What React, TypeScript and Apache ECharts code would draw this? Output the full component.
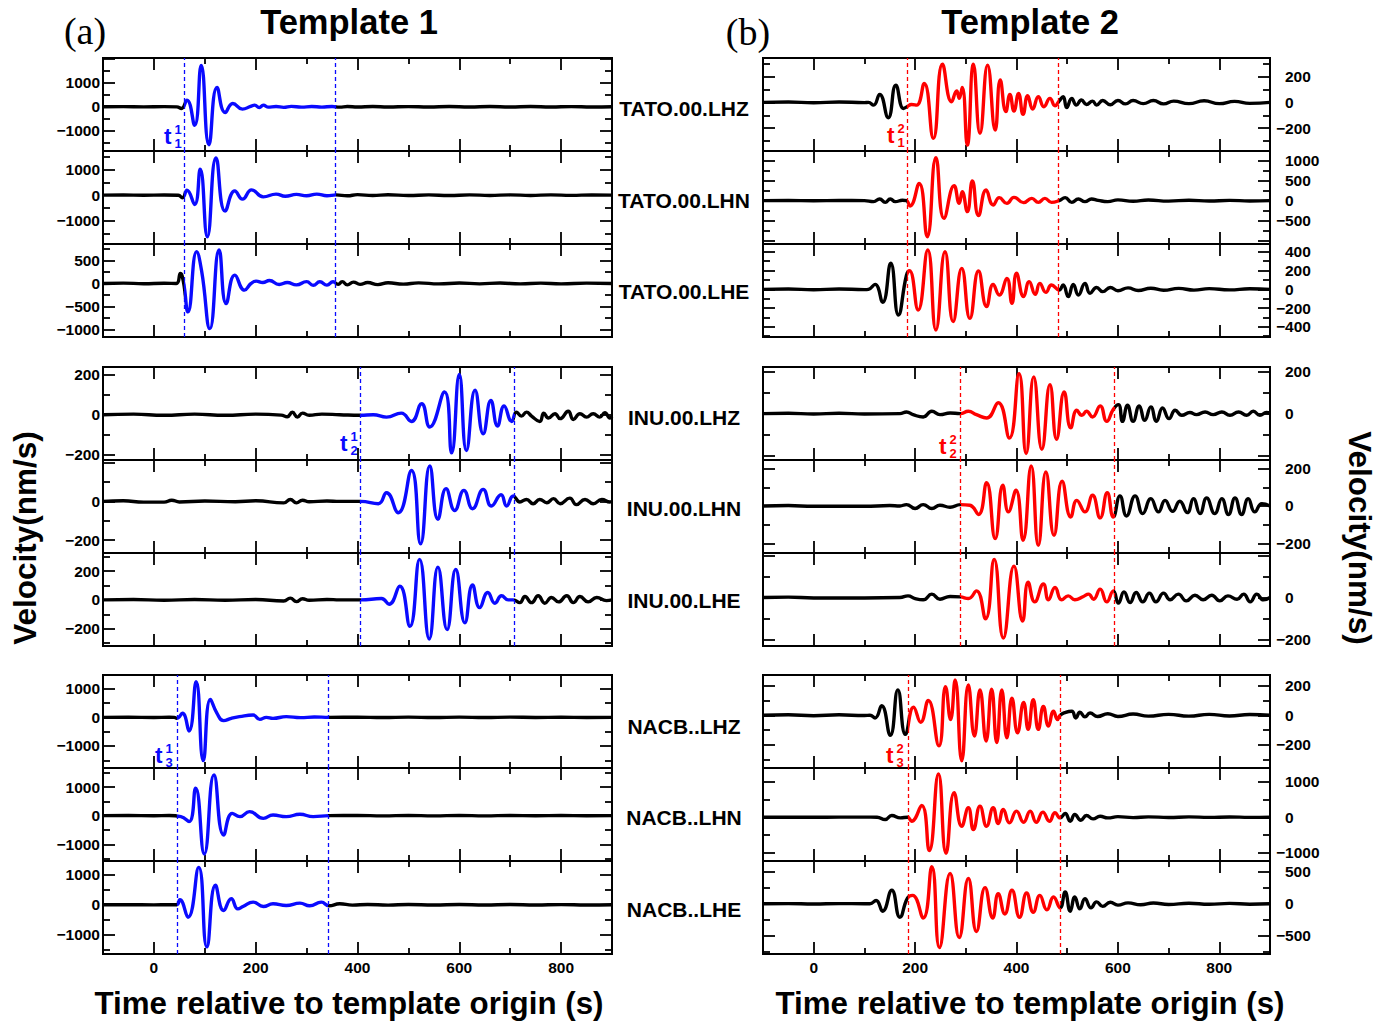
import React, { useEffect, useRef } from "react";
import * as echarts from "echarts";

// ---------- axes ----------
const X_MIN = -100;
const X_MAX = 900;
const X_MAJOR_TICKS = [0, 200, 400, 600, 800];
const X_MINOR_TICKS = [100, 300, 500, 700];
const X_TICK_LABELS = [0, 200, 400, 600, 800];

const STATIONS = [
  "TATO.00.LHZ", "TATO.00.LHN", "TATO.00.LHE",
  "INU.00.LHZ", "INU.00.LHN", "INU.00.LHE",
  "NACB..LHZ", "NACB..LHN", "NACB..LHE",
];

// template windows (s) for each station group
const WIN_T1 = [[59, 357], [406, 707], [45, 343]];
const WIN_T2 = [[184, 483], [290, 593], [186, 486]];

// y ranges, [major, minor] tick steps and tick labels per panel
const T1_Y_RANGE = [[-1830, 2020], [-1911, 1729], [-1160, 855], [-228, 240], [-267, 214], [-320, 325], [-1768, 1477], [-1582, 1663], [-1650, 1469]];
const T1_Y_STEPS = [[1000, 500], [1000, 500], [500, 250], [200, 100], [200, 100], [200, 100], [1000, 500], [1000, 500], [1000, 500]];
const T1_Y_LABELS = [[-1000, 0, 1000], [-1000, 0, 1000], [-1000, -500, 0, 500], [-200, 0, 200], [-200, 0], [-200, 0, 200], [-1000, 0, 1000], [-1000, 0, 1000], [-1000, 0, 1000]];

const T2_Y_RANGE = [[-377, 344], [-1083, 1241], [-509, 484], [-221, 222], [-252, 246], [-232, 213], [-355, 271], [-1238, 1390], [-788, 672]];
const T2_Y_STEPS = [[200, 100], [500, 250], [200, 100], [200, 100], [200, 100], [200, 100], [200, 100], [1000, 500], [500, 250]];
const T2_Y_LABELS = [[-200, 0, 200], [-500, 0, 500, 1000], [-400, -200, 0, 200, 400], [0, 200], [-200, 0, 200], [-200, 0], [-200, 0, 200], [-1000, 0, 1000], [-500, 0, 500]];

// ---------- waveforms: [time (s), velocity (nm/s)] ----------
const T1_TATO_LHZ = [[-100,0],[-60,6],[-20,-5],[20,5],[45,-4],[54,-70],[65,278],[80,-765],[93,1710],[108,-1570],[124,806],[140,-236],[155,139],[174,-97],[190,20],[198,70],[207,-28],[215,70],[224,-14],[240,12],[255,-22],[270,18],[290,-15],[310,12],[330,-12],[350,12],[365,-15],[380,10],[400,-10],[430,12],[460,-10],[500,8],[540,-10],[580,10],[620,-8],[660,10],[700,-8],[740,10],[780,-10],[820,8],[860,-8],[900,0]];
const T1_TATO_LHN = [[-100,0],[-60,6],[-20,-5],[20,5],[48,-4],[56,-104],[65,195],[80,-364],[91,1014],[105,-1625],[122,1456],[140,-624],[159,169],[174,-156],[192,208],[215,-65],[240,40],[258,-40],[280,30],[300,-20],[320,40],[340,-20],[358,10],[380,-25],[400,20],[430,-15],[460,15],[500,-12],[540,10],[580,-12],[620,10],[660,-10],[700,10],[740,-10],[780,10],[820,-8],[860,8],[900,0]];
const T1_TATO_LHE = [[-100,0],[-60,8],[-20,-6],[20,6],[44,0],[52,217],[58,36],[67,-616],[84,689],[94,254],[110,-979],[128,725],[142,-435],[159,181],[178,-145],[191,0],[201,50],[214,22],[227,65],[246,-22],[262,20],[280,-30],[300,40],[313,-40],[326,36],[340,-36],[352,36],[362,-20],[370,40],[380,-30],[392,30],[405,-20],[420,20],[440,-25],[460,15],[490,-15],[520,12],[560,-10],[600,10],[640,-8],[680,10],[720,-10],[760,8],[800,-8],[850,8],[900,0]];
const T1_INU_LHZ = [[-100,0],[-40,3],[20,-3],[80,3],[140,-3],[200,3],[250,-2],[262,-10],[272,12],[282,-12],[292,8],[305,-3],[330,3],[365,0],[406,-3],[431,0],[457,-12],[486,8],[506,-34],[526,55],[542,-62],[571,114],[585,-192],[600,202],[614,-180],[631,123],[647,-96],[662,72],[675,-57],[688,44],[703,-34],[712,13],[722,-7],[732,13],[742,-7],[758,-34],[766,8],[775,-17],[788,5],[798,-20],[814,17],[824,-24],[837,5],[850,-12],[863,5],[876,-12],[886,10],[896,-17],[900,-10]];
const T1_INU_LHN = [[-100,0],[-60,3],[-20,-4],[20,-4],[35,6],[50,-3],[100,2],[160,-2],[200,3],[255,-8],[268,10],[280,-8],[292,6],[305,-2],[340,2],[365,0],[406,0],[441,-12],[457,45],[480,-59],[506,160],[524,-219],[542,183],[558,-93],[574,66],[591,-47],[609,57],[626,-38],[647,62],[663,-24],[682,34],[693,-24],[706,28],[719,-3],[732,10],[745,-12],[758,10],[772,-7],[785,14],[798,-12],[817,17],[830,-17],[847,10],[863,-12],[880,10],[896,-3],[900,0]];
const T1_INU_LHE = [[-100,0],[-40,3],[20,-3],[80,3],[140,-3],[200,3],[255,-8],[268,12],[280,-12],[292,8],[305,-3],[340,3],[365,0],[406,0],[447,9],[462,-30],[483,94],[503,-183],[522,281],[541,-271],[558,227],[576,-206],[593,211],[611,-159],[626,103],[640,-54],[656,51],[670,-23],[683,28],[696,0],[706,0],[719,-19],[729,23],[742,-19],[755,28],[768,-23],[781,16],[795,-14],[811,28],[824,-19],[837,23],[853,-14],[870,16],[889,-5],[900,0]];
const T1_NACB_LHZ = [[-100,0],[-50,4],[0,-4],[30,3],[40,-3],[45,-35],[56,140],[69,-477],[83,1244],[97,-1512],[111,628],[124,140],[137,-116],[152,-35],[168,23],[195,81],[208,-70],[221,0],[234,-35],[260,23],[288,-12],[315,12],[344,0],[400,6],[450,-6],[500,6],[550,-6],[600,6],[650,-6],[700,6],[750,-5],[800,5],[850,-5],[900,0]];
const T1_NACB_LHN = [[-100,0],[-50,4],[0,-4],[30,3],[53,-35],[69,-209],[82,954],[99,-1337],[118,1419],[137,-675],[154,81],[169,-35],[188,140],[215,-93],[234,23],[260,-35],[287,47],[313,-35],[344,0],[400,6],[450,-6],[500,6],[550,-6],[600,6],[650,-6],[700,6],[750,-5],[800,5],[850,-5],[900,0]];
const T1_NACB_LHE = [[-100,0],[-50,4],[0,-4],[30,3],[45,0],[51,170],[67,-418],[88,1254],[104,-1412],[121,655],[137,-192],[152,203],[165,-136],[175,-57],[195,90],[215,-57],[234,34],[260,-23],[287,57],[306,-34],[329,90],[344,-34],[365,34],[390,-10],[420,12],[460,-10],[500,10],[550,-8],[600,8],[650,-8],[700,8],[750,-6],[800,6],[850,-6],[900,0]];

const T2_TATO_LHZ = [[-100,0],[-50,3],[0,-3],[50,3],[100,-2],[108,0],[118,-21],[130,62],[147,-119],[162,134],[177,-47],[184,-34],[193,-16],[203,-21],[218,147],[236,-279],[254,295],[272,5],[282,88],[287,31],[293,116],[303,-331],[315,295],[328,-240],[343,289],[358,-214],[368,173],[379,-72],[387,62],[395,-67],[404,70],[413,-93],[422,52],[432,-52],[443,44],[454,-34],[466,31],[476,-26],[484,10],[492,44],[499,-41],[509,31],[518,-21],[528,18],[538,-16],[550,10],[558,-21],[570,15],[585,-18],[600,15],[615,-12],[630,14],[650,-10],[670,14],[690,-12],[710,10],[740,-10],[770,12],[800,-10],[830,8],[860,-8],[900,0]];
const T2_TATO_LHN = [[-100,0],[-50,3],[0,-3],[50,3],[100,0],[118,-25],[130,42],[141,-42],[151,42],[161,-25],[175,10],[183,0],[190,-133],[208,433],[224,-900],[241,1075],[257,-441],[277,375],[287,-67],[293,225],[303,-275],[313,491],[325,-375],[340,267],[354,-108],[366,75],[381,-67],[395,83],[414,-50],[430,58],[443,-42],[456,58],[469,-42],[484,0],[496,75],[509,-42],[522,42],[535,-25],[548,42],[561,8],[580,-25],[600,20],[630,-15],[660,15],[700,-12],[740,12],[780,-10],[820,8],[860,-8],[900,0]];
const T2_TATO_LHE = [[-100,0],[-50,4],[0,-4],[50,4],[100,-3],[108,0],[121,53],[136,-139],[152,278],[167,-274],[183,150],[189,200],[206,-221],[225,420],[241,-434],[259,402],[275,-345],[292,224],[308,-310],[325,196],[341,-185],[354,53],[366,-60],[381,117],[391,-150],[400,171],[414,-78],[425,82],[437,-53],[446,64],[458,-32],[469,46],[484,-7],[492,46],[502,-78],[512,53],[522,-60],[535,64],[545,-43],[558,20],[570,-25],[585,20],[600,-15],[620,15],[640,-12],[665,12],[690,-10],[720,10],[750,-8],[780,8],[820,-6],[860,6],[900,0]];
const T2_INU_LHZ = [[-100,0],[-50,2],[0,-2],[50,2],[100,-2],[170,0],[183,8],[196,-5],[216,-16],[233,11],[249,-5],[269,3],[289,0],[305,11],[321,-5],[341,-21],[364,52],[386,-116],[405,190],[419,-190],[434,175],[450,-170],[466,138],[479,-122],[494,103],[507,-68],[519,16],[529,-8],[538,11],[550,-16],[565,37],[578,-37],[591,21],[601,43],[609,-37],[619,40],[630,-37],[642,37],[653,-32],[665,32],[676,-37],[688,27],[701,-24],[713,16],[726,-8],[742,5],[755,-5],[772,8],[788,-5],[805,8],[821,-8],[838,8],[854,-8],[867,11],[880,-8],[893,5],[900,0]];
const T2_INU_LHN = [[-100,0],[-50,2],[0,-2],[100,-2],[150,2],[170,0],[183,7],[200,-14],[216,7],[233,-14],[249,4],[269,-7],[289,7],[308,4],[325,-46],[341,125],[358,-175],[373,111],[384,-32],[399,84],[413,-184],[429,214],[443,-211],[458,182],[474,-157],[490,132],[507,-59],[519,30],[535,-32],[550,57],[565,-64],[579,71],[591,-59],[604,54],[617,-54],[634,54],[649,-41],[665,39],[680,-32],[693,30],[708,-29],[722,25],[737,-36],[749,39],[762,-41],[775,43],[791,-41],[805,39],[818,-46],[831,43],[844,-46],[857,39],[870,-32],[884,12],[900,0]];
const T2_INU_LHE = [[-100,0],[-50,2],[0,-2],[100,-2],[170,0],[186,8],[200,-5],[216,-11],[233,16],[249,-8],[269,5],[289,3],[305,-5],[321,32],[339,-102],[356,182],[374,-194],[395,150],[412,-113],[423,73],[436,-21],[453,65],[463,-11],[476,48],[489,-11],[502,8],[515,-11],[532,5],[542,16],[552,-8],[565,40],[578,-21],[591,32],[601,-27],[612,27],[624,-24],[636,24],[649,-21],[662,21],[675,-21],[690,21],[703,-11],[719,16],[735,-16],[752,11],[768,-11],[785,11],[801,-16],[817,8],[835,-8],[848,16],[861,-21],[874,16],[887,-11],[900,0]];
const T2_NACB_LHZ = [[-100,0],[-50,3],[0,-3],[50,3],[100,-2],[111,0],[121,-18],[134,64],[151,-135],[166,171],[181,-129],[197,55],[211,-47],[226,100],[247,-206],[260,193],[270,-29],[279,238],[292,-306],[305,204],[317,-140],[328,171],[340,-173],[351,175],[361,-184],[371,171],[381,-151],[391,115],[402,-118],[414,87],[423,-95],[433,104],[443,-95],[453,60],[463,-73],[473,27],[481,-29],[486,0],[497,20],[509,27],[517,-18],[525,20],[535,-11],[545,15],[560,-8],[580,10],[600,-8],[630,8],[660,-6],[700,6],[740,-6],[780,6],[820,-5],[860,5],[900,0]];
const T2_NACB_LHN = [[-100,0],[-50,3],[0,-3],[50,3],[100,2],[125,0],[141,-67],[154,48],[171,-19],[185,0],[193,-114],[213,333],[228,-943],[246,1219],[261,-1019],[277,695],[292,-257],[305,267],[315,-352],[328,314],[341,-257],[354,267],[364,-181],[374,219],[386,-162],[400,171],[414,-143],[427,171],[439,-143],[452,143],[465,-114],[476,124],[486,-19],[496,105],[506,-114],[515,76],[527,-86],[538,48],[551,-48],[565,25],[580,-20],[600,15],[630,-12],[660,10],[700,-8],[740,8],[780,-6],[820,6],[860,-5],[900,0]];
const T2_NACB_LHE = [[-100,0],[-50,3],[0,-3],[50,3],[100,2],[111,0],[123,53],[136,-116],[154,212],[170,-212],[185,90],[195,132],[216,-222],[233,582],[248,-688],[269,476],[287,-529],[305,397],[321,-434],[338,254],[353,-222],[364,159],[377,-159],[391,212],[406,-212],[420,169],[433,-132],[446,132],[460,-95],[473,106],[486,-63],[496,185],[506,-116],[515,106],[525,-79],[535,79],[547,-63],[558,30],[570,-40],[585,25],[600,-20],[620,15],[645,-15],[670,12],[700,-10],[740,8],[780,-8],[820,6],[860,-6],[900,0]];

const T1_TRACES = [T1_TATO_LHZ, T1_TATO_LHN, T1_TATO_LHE, T1_INU_LHZ, T1_INU_LHN, T1_INU_LHE, T1_NACB_LHZ, T1_NACB_LHN, T1_NACB_LHE];
const T2_TRACES = [T2_TATO_LHZ, T2_TATO_LHN, T2_TATO_LHE, T2_INU_LHZ, T2_INU_LHN, T2_INU_LHE, T2_NACB_LHZ, T2_NACB_LHN, T2_NACB_LHE];

// ---------- layout & style ----------
const PANEL_TOPS = [58, 151, 244, 367, 460, 553, 675, 768, 861];
const PANEL_H = 93;
const COL_LEFT = [103, 763];
const COL_W = [509, 507];
const BLUE = "#0a0aff";
const RED = "#ff0000";
const FONT = '"Liberation Sans", Arial, sans-serif';
const STATION_Y = [108, 200, 291, 417, 508, 600, 726, 817, 909];

function ticksFor(min: number, max: number, step: number) {
  const out: number[] = [];
  for (let v = Math.ceil(min / step) * step; v < max; v += step) {
    if (v > min) out.push(v);
  }
  return out;
}

const minus = (v: number) => (v < 0 ? "\u2212" + Math.abs(v) : String(v));

function tick(values: number[], length: number) {
  return { show: true, inside: true, length, customValues: values, lineStyle: { color: "#000", width: 1.8 } };
}

function buildOption() {
  const grid: any[] = [];
  const xAxis: any[] = [];
  const yAxis: any[] = [];
  const series: any[] = [];
  const visualMap: any[] = [];

  const panels: any[] = [];
  for (let r = 0; r < 9; r++) {
    panels.push({ col: 0, row: r, data: T1_TRACES[r], range: T1_Y_RANGE[r], steps: T1_Y_STEPS[r], labels: T1_Y_LABELS[r], win: WIN_T1[Math.floor(r / 3)], color: BLUE });
  }
  for (let r = 0; r < 9; r++) {
    panels.push({ col: 1, row: r, data: T2_TRACES[r], range: T2_Y_RANGE[r], steps: T2_Y_STEPS[r], labels: T2_Y_LABELS[r], win: WIN_T2[Math.floor(r / 3)], color: RED });
  }

  const labelFont = { fontFamily: FONT, fontWeight: "bold", fontSize: 15.5, color: "#000" };

  panels.forEach((p, i) => {
    grid.push({
      left: COL_LEFT[p.col], top: PANEL_TOPS[p.row], width: COL_W[p.col], height: PANEL_H,
      show: true, borderColor: "#000", borderWidth: 2, backgroundColor: "transparent",
      containLabel: false, outerBoundsMode: "none",
    });
    const isBottom = p.row === 8;
    const xBase = { gridIndex: i, type: "value", min: X_MIN, max: X_MAX, axisLine: { show: false, onZero: false }, splitLine: { show: false } };
    xAxis.push({ ...xBase, position: "bottom", axisTick: tick(X_MAJOR_TICKS, 12),
      axisLabel: isBottom ? { show: true, customValues: X_TICK_LABELS, margin: 5, ...labelFont } : { show: false } });
    xAxis.push({ ...xBase, position: "bottom", axisTick: tick(X_MINOR_TICKS, 6), axisLabel: { show: false } });
    xAxis.push({ ...xBase, position: "top", axisTick: tick(X_MAJOR_TICKS, 12), axisLabel: { show: false } });
    xAxis.push({ ...xBase, position: "top", axisTick: tick(X_MINOR_TICKS, 6), axisLabel: { show: false } });

    const [ymin, ymax] = p.range;
    const [majStep, minStep] = p.steps;
    const major = ticksFor(ymin, ymax, majStep);
    const minor = ticksFor(ymin, ymax, minStep).filter((v) => major.indexOf(v) < 0);
    const yBase = { gridIndex: i, type: "value", min: ymin, max: ymax, axisLine: { show: false, onZero: false }, splitLine: { show: false } };
    const leftLabel = { show: true, customValues: p.labels, margin: 3, formatter: (v: number) => minus(v), ...labelFont };
    const rightLabel = {
      show: true, customValues: p.labels, margin: 6,
      formatter: (v: number) => (v < 0 ? "{n|" + minus(v) + "}" : "{p|" + v + "}"),
      rich: { n: { ...labelFont }, p: { ...labelFont, padding: [0, 0, 0, 9] } },
    };
    yAxis.push({ ...yBase, position: "left", axisTick: tick(major, 12), axisLabel: p.col === 0 ? leftLabel : { show: false } });
    yAxis.push({ ...yBase, position: "left", axisTick: tick(minor, 7), axisLabel: { show: false } });
    yAxis.push({ ...yBase, position: "right", axisTick: tick(major, 12), axisLabel: p.col === 1 ? rightLabel : { show: false } });
    yAxis.push({ ...yBase, position: "right", axisTick: tick(minor, 7), axisLabel: { show: false } });

    const traceIndex = series.length;
    series.push({
      type: "line", xAxisIndex: 4 * i, yAxisIndex: 4 * i, data: p.data,
      smooth: 0.5, showSymbol: false, symbol: "none", silent: true, clip: true,
      lineStyle: { width: 3.4 }, z: 3,
    });
    visualMap.push({
      type: "piecewise", show: false, seriesIndex: traceIndex, dimension: 0,
      pieces: [
        { lt: p.win[0], color: "#000" },
        { gte: p.win[0], lte: p.win[1], color: p.color },
        { gt: p.win[1], color: "#000" },
      ],
    });
    series.push({
      type: "line", xAxisIndex: 4 * i, yAxisIndex: 4 * i, data: [], silent: true, z: 2,
      markLine: {
        silent: true, symbol: ["none", "none"], label: { show: false },
        lineStyle: { color: p.color, type: [4, 3], width: 1.3 },
        data: [{ xAxis: p.win[0] }, { xAxis: p.win[1] }],
      },
    });
  });

  const txt = (text: string, x: number, y: number, size: number, extra: any = {}) => ({
    type: "text", x, y, silent: true,
    style: {
      text, fontSize: size, fontWeight: "bold", fontFamily: FONT, fill: "#000",
      textAlign: "center", textVerticalAlign: "middle", align: "center", verticalAlign: "middle", ...extra,
    },
  });

  const tLabel = (x0: number, base: number, sup: string, sub: string, color: string) => [
    txt("t", x0, base - 7.8, 22.5, { fill: color, textAlign: "left", align: "left" }),
    txt(sup, x0 + 10.5, base - 15, 13, { fill: color, textAlign: "left", align: "left" }),
    txt(sub, x0 + 10.5, base - 1, 13, { fill: color, textAlign: "left", align: "left" }),
  ];

  const graphic: any[] = [
    txt("Template 1", 349, 22, 34.5),
    txt("Template 2", 1030, 22, 34.5),
    txt("(a)", 85, 31, 38, { fontWeight: "normal", fontFamily: '"Liberation Serif", "Times New Roman", serif' }),
    txt("(b)", 748, 32, 38, { fontWeight: "normal", fontFamily: '"Liberation Serif", "Times New Roman", serif' }),
    txt("Time relative to template origin (s)", 349, 1003, 31.3),
    txt("Time relative to template origin (s)", 1030, 1003, 31.3),
    { ...txt("Velocity(nm/s)", 25, 538, 31.5), rotation: Math.PI / 2 },
    { ...txt("Velocity(nm/s)", 1360, 538, 31.5), rotation: -Math.PI / 2 },
    ...STATIONS.map((s, r) => txt(s, 684, STATION_Y[r], 21)),
    ...tLabel(164, 144, "1", "1", BLUE),
    ...tLabel(340, 451, "1", "2", BLUE),
    ...tLabel(155, 763, "1", "3", BLUE),
    ...tLabel(887, 143, "2", "1", RED),
    ...tLabel(939, 454, "2", "2", RED),
    ...tLabel(886, 763, "2", "3", RED),
  ];

  return {
    animation: false,
    backgroundColor: "#fff",
    grid, xAxis, yAxis, series, visualMap, graphic,
  };
}

export default function App() {
  const ref = useRef<HTMLDivElement>(null);
  useEffect(() => {
    if (!ref.current) return;
    const chart = echarts.init(ref.current, null, { renderer: "svg" });
    chart.setOption(buildOption() as any);
    return () => chart.dispose();
  }, []);
  return <div ref={ref} style={{ position: "fixed", left: 0, top: 0, width: 1394, height: 1025 }} />;
}
